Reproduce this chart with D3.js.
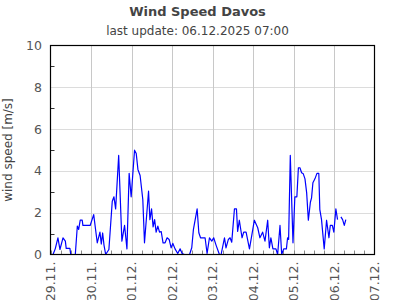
<!DOCTYPE html>
<html><head><meta charset="utf-8">
<script src="https://cdn.jsdelivr.net/npm/d3@7"></script>
<style>body{margin:0;background:#fff}svg{display:block;font-family:"DejaVu Sans",sans-serif}</style>
</head><body>
<script>
const titleText = "Wind Speed Davos";
const subtitleText = "last update: 06.12.2025 07:00";
const yLabel = "wind speed [m/s]";
const startDate = new Date(2025, 10, 29, 0, 0);
const endDate = new Date(2025, 11, 7, 0, 0);
const yTicks = [0, 2, 4, 6, 8, 10];
// hours since 29.11. 00:00
const hours = [1.5,2.8,4.4,5.6,7.4,8.8,9.3,11.5,12.0,14.7,15.9,16.7,17.6,18.8,19.2,23.5,25.6,27.7,29.3,30.1,30.9,31.7,32.7,34.6,36.6,37.6,38.6,40.4,42.3,43.9,45.3,46.6,47.8,49.8,50.8,51.8,53.1,54.7,55.7,58.1,58.9,59.9,60.8,61.7,62.6,63.6,64.6,65.6,66.7,67.9,69.1,70.3,71.5,72.5,73.8,75.4,76.8,78.0,79.3,82.4,83.7,84.7,86.9,87.9,88.9,91.6,92.8,94.2,95.6,96.7,98.1,100.1,101.1,103.1,104.0,105.4,106.4,107.4,109.0,110.2,110.9,111.9,113.5,114.5,115.9,117.9,119.2,120.8,122.8,124.1,125.7,127.1,128.7,129.7,130.6,131.8,133.6,134.6,136.0,137.0,138.2,139.8,140.5,141.1,142.1,143.7,144.8,146.0,146.9,147.8,148.8,149.8,150.8,151.8,152.8,154.0,154.7,155.5,156.7,157.9,159.0,159.6,160.6,162.2,163.6,165.0,165.8,167.0,167.9,169.1,170.1,171.1,172.1,173.1,174.1,175.0];
const speeds = [0,0.27,0.8,0.24,0.8,0.64,0.29,0.29,0,0,1.36,1.2,1.64,1.64,1.39,1.39,1.91,0.56,1.07,0.5,1.03,0.45,0,0.24,2.55,2.76,2.18,4.74,0.64,1.39,0.27,3.88,2.76,4.99,4.83,4.07,3.78,2.63,0.56,3.03,1.67,2.18,1.32,1.67,1.07,1.36,1.07,1.1,0.56,0.56,0.8,0.72,0.32,0.53,0.27,0.05,0.27,0.05,0,0,0.32,1.2,2.18,1.04,0.8,0.8,0.05,0.8,0.64,0.8,0.45,0,0,0.8,0.32,0.72,0.8,0.59,2.18,2.18,1.1,1.64,0.8,1.07,1.07,0.27,0.88,1.64,1.28,0.8,1.07,0.64,1.64,0.32,0.8,0.27,0.27,0,1.39,0,0.27,0.27,0.8,0.72,4.74,0.56,2.76,2.76,4.15,4.15,3.91,3.86,3.62,2.95,1.64,2.5,2.71,3.43,3.62,3.88,3.88,2.15,1.67,0.27,1.64,0.8,1.39,1.39,1.07,2.18,1.67,null,1.8,1.67,1.39,1.67];

const W = 395, H = 300;
const m = {l: 50.5, r: 20.5, t: 45.5, b: 45.5};
const svg = d3.select("body").append("svg").attr("width", W).attr("height", H);

const x = d3.scaleTime().domain([startDate, endDate]).range([m.l, W - m.r]);
const y = d3.scaleLinear().domain([0, 10]).range([H - m.b + 0.5 - 0.5, m.t]);

const data = hours.map((h, i) => ({t: new Date(startDate.getTime() + h * 3600e3), v: speeds[i]}));

// grid
const days = d3.timeDay.range(startDate, d3.timeDay.offset(endDate, 1));
svg.append("g").selectAll("line").data(yTicks.slice(1, -1)).join("line")
  .attr("x1", m.l).attr("x2", W - m.r).attr("y1", d => Math.round(y(d)) + 0.5).attr("y2", d => Math.round(y(d)) + 0.5)
  .attr("stroke", "#dcdcdc").attr("stroke-width", 1);
svg.append("g").selectAll("line").data(days.slice(1, -1)).join("line")
  .attr("x1", d => Math.round(x(d)) + 0.5).attr("x2", d => Math.round(x(d)) + 0.5)
  .attr("y1", m.t).attr("y2", H - m.b)
  .attr("stroke", "#c8c8c8").attr("stroke-width", 1);

// minor x ticks (6h)
const sixH = d3.timeHour.every(6).range(startDate, endDate);
svg.append("g").selectAll("line").data(sixH).join("line")
  .attr("x1", d => Math.round(x(d)) + 0.5).attr("x2", d => Math.round(x(d)) + 0.5)
  .attr("y1", H - m.b).attr("y2", H - m.b - 4)
  .attr("stroke", "#888").attr("stroke-width", 1);
// y minor ticks
svg.append("g").selectAll("line").data([1, 3, 5, 7, 9]).join("line")
  .attr("x1", m.l).attr("x2", m.l + 4).attr("y1", d => Math.round(y(d)) + 0.5).attr("y2", d => Math.round(y(d)) + 0.5)
  .attr("stroke", "#333").attr("stroke-width", 1);

// line
const line = d3.line().defined(d => d.v != null).x(d => x(d.t)).y(d => y(d.v));
svg.append("path").datum(data).attr("d", line)
  .attr("fill", "none").attr("stroke", "#0000ff").attr("stroke-width", 1.2).attr("stroke-linejoin", "round");

// frame
svg.append("rect").attr("x", m.l).attr("y", m.t).attr("width", W - m.r - m.l).attr("height", H - m.b - m.t)
  .attr("fill", "none").attr("stroke", "#000").attr("stroke-width", 1.2);

// y labels
svg.append("g").selectAll("text").data(yTicks).join("text")
  .attr("x", 42).attr("y", d => y(d)).attr("dy", "0.36em").attr("text-anchor", "end")
  .attr("font-size", 12.5).attr("fill", "#555").text(d => d);

// x labels
const fmt = d3.timeFormat("%d.%m.");
svg.append("g").selectAll("text").data(days).join("text")
  .attr("transform", d => `translate(${x(d) + 4.5},${H - m.b + 7}) rotate(-90)`)
  .attr("text-anchor", "end").attr("font-size", 12.5).attr("fill", "#555").text(d => fmt(d));

// axis title
svg.append("text").attr("transform", `translate(12,${(m.t + H - m.b) / 2}) rotate(-90)`)
  .attr("text-anchor", "middle").attr("font-size", 12).attr("fill", "#444").text(yLabel);

svg.append("text").attr("x", W / 2).attr("y", 16).attr("text-anchor", "middle")
  .attr("font-size", 13).attr("font-weight", "bold").attr("fill", "#444").text(titleText);
svg.append("text").attr("x", W / 2).attr("y", 35).attr("text-anchor", "middle")
  .attr("font-size", 12).attr("fill", "#444").text(subtitleText);
</script>
</body></html>
